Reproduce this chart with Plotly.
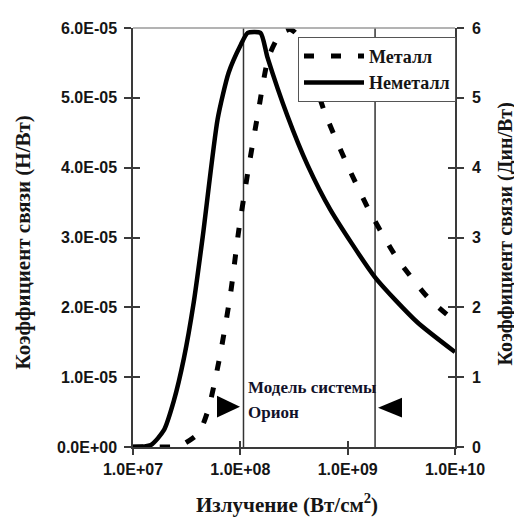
import plotly.graph_objects as go

# Irradiance (W/cm^2) and coupling coefficient (N/W)
irr_nonmetal = [1.0e7, 1.47e7, 1.94e7, 2.40e7, 2.98e7, 3.68e7, 4.47e7, 6.15e7, 7.78e7,
                1.01e8, 1.17e8, 1.54e8, 1.79e8, 2.75e8, 4.22e8, 6.89e8, 1.80e9, 4.43e9, 1.0e10]
cm_nonmetal = [0.0, 0.03e-5, 0.24e-5, 0.66e-5, 1.27e-5, 2.07e-5, 3.02e-5, 4.70e-5, 5.36e-5,
               5.76e-5, 5.93e-5, 5.93e-5, 5.58e-5, 4.74e-5, 4.04e-5, 3.40e-5, 2.43e-5, 1.79e-5, 1.36e-5]

irr_metal = [1.0e7, 1.71e7, 2.67e7, 4.10e7, 5.08e7, 6.56e7, 8.13e7, 9.64e7, 1.17e8, 1.45e8,
             1.83e8, 2.37e8, 2.93e8, 3.40e8, 6.19e8, 9.91e8, 1.62e9, 2.89e9, 5.60e9, 1.0e10]
cm_metal = [0.0, 0.0, 0.01e-5, 0.2e-5, 0.56e-5, 1.36e-5, 2.21e-5, 3.09e-5, 3.92e-5, 4.75e-5,
            5.58e-5, 5.92e-5, 5.98e-5, 5.90e-5, 4.77e-5, 4.04e-5, 3.36e-5, 2.70e-5, 2.14e-5, 1.80e-5]

orion_bounds = [1.07e8, 1.8e9]
orion_span = [0.0, 6.0e-5]

x_tickvals = [1e7, 1e8, 1e9, 1e10]
x_ticktext = ["1.0E+07", "1.0E+08", "1.0E+09", "1.0E+10"]
y_tickvals = [0, 1e-5, 2e-5, 3e-5, 4e-5, 5e-5, 6e-5]
y_ticktext = ["0.0E+00", "1.0E-05", "2.0E-05", "3.0E-05", "4.0E-05", "5.0E-05", "6.0E-05"]
y2_tickvals = [0, 1, 2, 3, 4, 5, 6]
y2_ticktext = ["0", "1", "2", "3", "4", "5", "6"]

AX = "#3a3a3a"
TXT = "#151515"
tickfont = dict(family="Liberation Sans, Arial", size=16, color=TXT, weight="bold")
serif = "Liberation Serif, Times New Roman"

# plot area in page pixels (page has an 8px body margin)
PL, PR, PT, PB = 133, 455, 21, 447
PW, PH = PR - PL, PB - PT


def px(x):
    return (x - PL) / PW


def py(y):
    return (PB - y) / PH


fig = go.Figure()

for xb in orion_bounds:
    fig.add_trace(go.Scatter(x=[xb, xb], y=orion_span, mode="lines",
                             line=dict(color="#333333", width=1.5),
                             showlegend=False, hoverinfo="skip"))

fig.add_trace(go.Scatter(x=irr_metal, y=cm_metal, mode="lines", name="Металл",
                         line=dict(color="black", width=5, dash="10px,17px",
                                   shape="spline", smoothing=0.6)))
fig.add_trace(go.Scatter(x=irr_nonmetal, y=cm_nonmetal, mode="lines", name="Неметалл",
                         line=dict(color="black", width=4.5, shape="spline", smoothing=0.6)))

# empty traces to activate the secondary/overlay axes
fig.add_trace(go.Scatter(x=[None], y=[None], yaxis="y2", showlegend=False))
fig.add_trace(go.Scatter(x=[None], y=[None], xaxis="x2", yaxis="y3", showlegend=False))
fig.add_trace(go.Scatter(x=[None], y=[None], xaxis="x2", yaxis="y4", showlegend=False))

fig.update_layout(
    width=514, height=514,
    margin=dict(l=PL - 8, r=514 - (PR - 8), t=PT - 8, b=514 - (PB - 8)),
    paper_bgcolor="white", plot_bgcolor="white",
    xaxis=dict(type="log", range=[7, 10], tickvals=x_tickvals, ticktext=x_ticktext,
               tickfont=tickfont, ticks="outside", ticklen=6, tickwidth=1.5, tickcolor=AX,
               showline=True, linecolor=AX, linewidth=1.5, showgrid=False, zeroline=False,
               ticklabelstandoff=1),
    xaxis2=dict(type="log", range=[7, 10], tickvals=x_tickvals, overlaying="x", anchor="y",
                ticks="inside", ticklen=6, tickwidth=1.5, tickcolor=AX, showticklabels=False,
                showline=False, showgrid=False, zeroline=False),
    yaxis=dict(range=[0, 6e-5], tickvals=y_tickvals, ticktext=y_ticktext, tickfont=tickfont,
               ticks="outside", ticklen=7, tickwidth=1.5, tickcolor=AX,
               showline=True, linecolor=AX, linewidth=1.5, showgrid=False, zeroline=False,
               ticklabelstandoff=4),
    yaxis2=dict(range=[0, 6], tickvals=y2_tickvals, ticktext=y2_ticktext, tickfont=tickfont,
                overlaying="y", side="right", anchor="x",
                ticks="outside", ticklen=7, tickwidth=1.5, tickcolor=AX,
                showline=True, linecolor=AX, linewidth=1.5, showgrid=False, zeroline=False,
                ticklabelstandoff=5),
    yaxis3=dict(range=[0, 6e-5], tickvals=y_tickvals, overlaying="y", side="left", anchor="x2",
                ticks="inside", ticklen=7, tickwidth=1.5, tickcolor=AX, showticklabels=False,
                showline=False, showgrid=False, zeroline=False),
    yaxis4=dict(range=[0, 6], tickvals=y2_tickvals, overlaying="y", side="right", anchor="x2",
                ticks="inside", ticklen=7, tickwidth=1.5, tickcolor=AX, showticklabels=False,
                showline=False, showgrid=False, zeroline=False),
    legend=dict(x=px(298), y=py(30), xanchor="left", yanchor="top",
                bgcolor="white", bordercolor="#555555", borderwidth=1,
                font=dict(family=serif, size=18, color=TXT, weight="bold"),
                itemwidth=60, tracegroupgap=0),
    showlegend=True,
    shapes=[
        dict(type="line", xref="paper", yref="paper", x0=0, x1=1, y0=1, y1=1,
             line=dict(color="#9a9a9a", width=1.5)),
        dict(type="path", xref="paper", yref="paper", fillcolor="black", line=dict(width=0),
             path="M %f %f L %f %f L %f %f Z" % (px(217), py(395), px(217), py(417),
                                                 px(240), py(406))),
        dict(type="path", xref="paper", yref="paper", fillcolor="black", line=dict(width=0),
             path="M %f %f L %f %f L %f %f Z" % (px(402), py(397), px(402), py(417),
                                                 px(378), py(407))),
    ],
    annotations=[
        dict(text="Модель системы", xref="paper", yref="paper",
             x=px(246), y=py(387), xanchor="left", yanchor="middle",
             showarrow=False, font=dict(family=serif, size=17, color="#12122a", weight="bold")),
        dict(text="Орион", xref="paper", yref="paper",
             x=px(246), y=py(412), xanchor="left", yanchor="middle",
             showarrow=False, font=dict(family=serif, size=17, color="#12122a", weight="bold")),
        dict(text="Коэффициент связи (Н/Вт)", xref="paper", yref="paper",
             x=px(23), y=py(239), xanchor="center", yanchor="middle",
             textangle=-90, showarrow=False,
             font=dict(family=serif, size=21, color=TXT, weight="bold")),
        dict(text="Коэффициент связи (Дин/Вт)", xref="paper", yref="paper",
             x=px(506), y=py(230), xanchor="center", yanchor="middle",
             textangle=-90, showarrow=False,
             font=dict(family=serif, size=20, color=TXT, weight="bold")),
        dict(text="Излучение (Вт/см<sup>2</sup>)", xref="paper", yref="paper",
             x=px(287), y=py(504), xanchor="center", yanchor="middle",
             showarrow=False, font=dict(family=serif, size=21, color=TXT, weight="bold")),
    ],
)

fig.write_html("out.html")
